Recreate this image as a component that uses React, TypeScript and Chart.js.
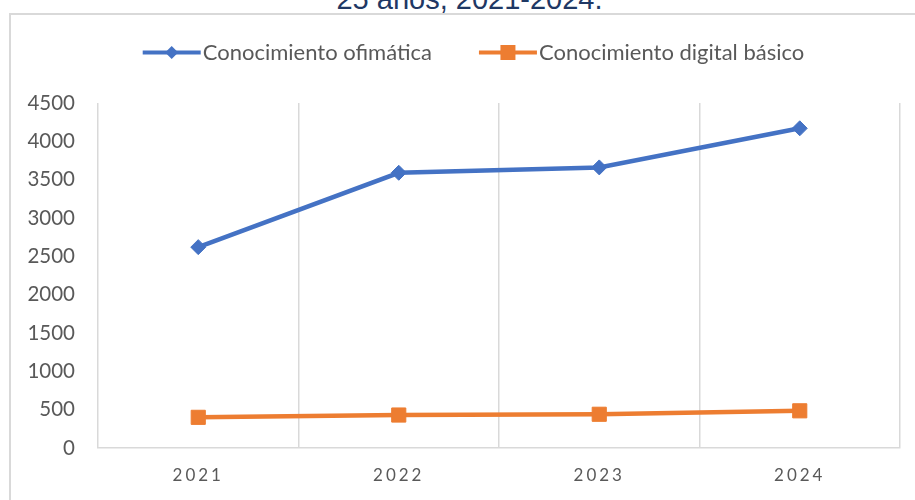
import React, { useEffect, useRef } from "react";
import { Chart, registerables } from "chart.js";

Chart.register(...registerables);

// ---- data ----
const categories = ["2021", "2022", "2023", "2024"];
const ofimatica = [2620, 3590, 3660, 4170];
const digitalBasico = [400, 430, 440, 485];
const seriesNames = ["Conocimiento ofimática", "Conocimiento digital básico"];
const yMin = 0;
const yMax = 4500;
const yStep = 500;
const titleText = "25 años, 2021-2024.";

// ---- style ----
const BLUE = "#4472C4";
const ORANGE = "#ED7D31";
const GRID = "#d9d9d9";
const TEXT = "#595959";
const FONT = "Lato, Carlito, Calibri, sans-serif";
const LEGEND_FS = 22;
const LEGEND_BOXW = 86;

const legendMarkers = {
  id: "legendMarkers",
  afterDraw(chart: any) {
    const legend = chart.legend;
    if (!legend || !legend.legendHitBoxes) return;
    const ctx = chart.ctx;
    legend.legendHitBoxes.forEach((hb: any, i: number) => {
      const ds = chart.data.datasets[i];
      const textX = hb.left + LEGEND_BOXW + LEGEND_FS / 2;
      const cy = hb.top + hb.height / 2;
      const x1 = textX - 60;
      const x2 = textX - 2;
      const cx = (x1 + x2) / 2;
      ctx.save();
      ctx.strokeStyle = ds.borderColor;
      ctx.fillStyle = ds.borderColor;
      ctx.lineWidth = 4;
      ctx.beginPath();
      ctx.moveTo(x1, cy);
      ctx.lineTo(x2, cy);
      ctx.stroke();
      ctx.beginPath();
      if (ds.pointStyle === "rectRot") {
        const r = 6.5;
        ctx.moveTo(cx - r, cy);
        ctx.lineTo(cx, cy - r);
        ctx.lineTo(cx + r, cy);
        ctx.lineTo(cx, cy + r);
        ctx.closePath();
      } else {
        const s = 7.5;
        ctx.rect(cx - s, cy - s, 2 * s, 2 * s);
      }
      ctx.fill();
      ctx.restore();
    });
  },
};

const spacedXLabels = {
  id: "spacedXLabels",
  afterUpdate(chart: any) {
    const xs: any = chart.scales.x;
    if (xs && !xs._lsPatched) {
      const orig = xs.drawLabels;
      xs.drawLabels = function (area: any) {
        const c = this.ctx;
        c.save();
        c.letterSpacing = "3px";
        orig.call(this, area);
        c.restore();
      };
      xs._lsPatched = true;
    }
  },
};

function LineChart() {
  const ref = useRef<HTMLCanvasElement | null>(null);
  useEffect(() => {
    if (!ref.current) return;
    const chart = new Chart(ref.current, {
      type: "line",
      data: {
        labels: categories,
        datasets: [
          {
            label: seriesNames[0],
            data: ofimatica,
            borderColor: BLUE,
            backgroundColor: BLUE,
            borderWidth: 4.5,
            pointStyle: "rectRot",
            pointRadius: 7.5,
            pointBorderWidth: 1,
            pointBackgroundColor: BLUE,
            pointBorderColor: BLUE,
            tension: 0,
            clip: false as any,
          },
          {
            label: seriesNames[1],
            data: digitalBasico,
            borderColor: ORANGE,
            backgroundColor: ORANGE,
            borderWidth: 4.5,
            pointStyle: "rect",
            pointRadius: 10,
            pointBorderWidth: 1,
            pointBackgroundColor: ORANGE,
            pointBorderColor: ORANGE,
            tension: 0,
            clip: false as any,
          },
        ],
      },
      options: {
        responsive: false,
        animation: false,
        layout: { padding: { left: 10, right: 15, top: 2, bottom: 0 } },
        plugins: {
          tooltip: { enabled: false },
          title: { display: false },
          legend: {
            display: true,
            position: "top",
            labels: {
              font: { family: FONT, size: LEGEND_FS },
              color: TEXT,
              boxWidth: LEGEND_BOXW,
              boxHeight: 81,
              padding: 10,
              generateLabels: (ch: any) =>
                ch.data.datasets.map((ds: any, i: number) => ({
                  text: ds.label,
                  fillStyle: "rgba(0,0,0,0)",
                  strokeStyle: "rgba(0,0,0,0)",
                  lineWidth: 0,
                  hidden: false,
                  datasetIndex: i,
                  fontColor: TEXT,
                })),
            },
          },
        },
        scales: {
          x: {
            type: "category",
            offset: true,
            grid: {
              display: true,
              offset: true,
              color: GRID,
              lineWidth: 1.5,
              drawTicks: false,
            },
            border: { display: true, color: GRID, width: 1.5 },
            ticks: {
              color: TEXT,
              font: { family: FONT, size: 17 },
              padding: 17,
              maxRotation: 0,
            },
            afterFit: (s: any) => {
              s.height = 52;
            },
          },
          y: {
            min: yMin,
            max: yMax,
            ticks: {
              stepSize: yStep,
              color: TEXT,
              font: { family: FONT, size: 20.5 },
              padding: 23,
              callback: (v: any) => String(v),
            },
            grid: { display: false, drawTicks: false },
            border: { display: false },
            afterFit: (s: any) => {
              s.width = 88;
            },
          },
        },
      },
      plugins: [legendMarkers, spacedXLabels],
    });
    return () => chart.destroy();
  }, []);
  return (
    <canvas
      ref={ref}
      width={915}
      height={500}
      style={{ position: "absolute", left: 0, top: 0, width: 915, height: 500 }}
    />
  );
}

export default function App() {
  return (
    <div
      style={{
        position: "absolute",
        left: 0,
        top: 0,
        width: 915,
        height: 500,
        overflow: "hidden",
        background: "#ffffff",
      }}
    >
      <div
        style={{
          position: "absolute",
          left: 9,
          top: 13,
          width: 2000,
          height: 2000,
          borderLeft: "2px solid " + GRID,
          borderTop: "2px solid " + GRID,
        }}
      />
      <div
        style={{
          position: "absolute",
          left: 0,
          top: -15.5,
          width: 939,
          textAlign: "center",
          fontFamily: '"Liberation Sans", Arial, sans-serif',
          fontSize: 29,
          lineHeight: "29px",
          color: "#1F3864",
          whiteSpace: "nowrap",
        }}
      >
        {titleText}
      </div>
      <LineChart />
    </div>
  );
}
